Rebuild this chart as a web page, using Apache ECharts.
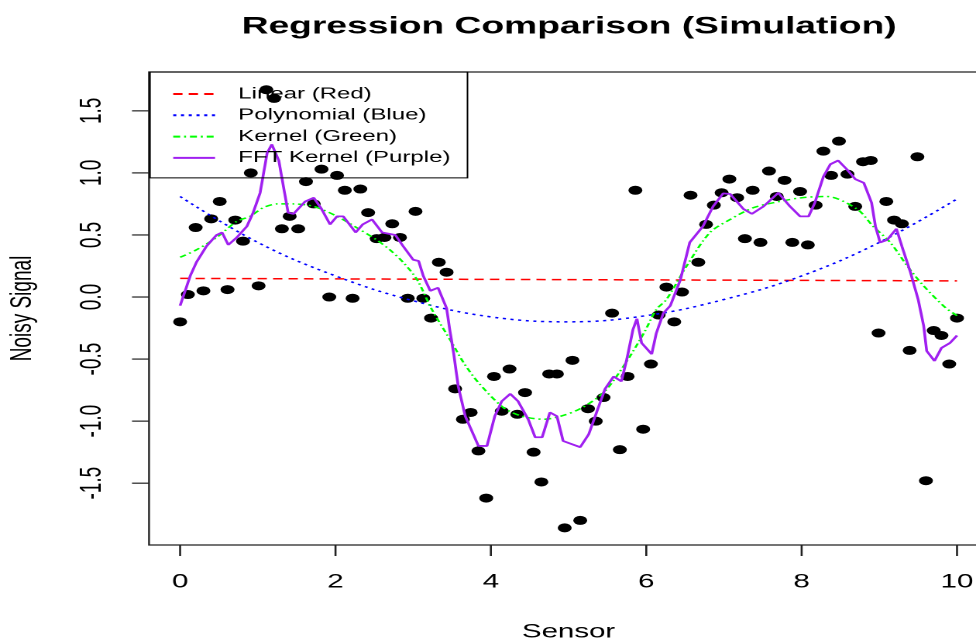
<!DOCTYPE html>
<html>
<head>
<meta charset="utf-8">
<title>Regression Comparison (Simulation)</title>
<script src="https://cdn.jsdelivr.net/npm/echarts@6/dist/echarts.min.js"></script>
<style>
  html, body { margin: 0; padding: 0; background: #fff; overflow: hidden; width: 976px; height: 642px; }
  /* the reference is stretched sideways, so draw it narrow and widen it */
  #chart { width: 645px; height: 642px; transform: scaleX(1.5492); transform-origin: 0 0; }
</style>
</head>
<body>
<div id="chart"></div>
<script>
// noisy sensor readings
var sensorX = [
    0, 0.10, 0.20, 0.30, 0.40, 0.51, 0.61, 0.71, 0.81, 0.91,
    1.01, 1.11, 1.21, 1.31, 1.41, 1.52, 1.62, 1.72, 1.82, 1.92,
    2.02, 2.12, 2.22, 2.32, 2.42, 2.53, 2.63, 2.73, 2.83, 2.93,
    3.03, 3.13, 3.23, 3.33, 3.43, 3.54, 3.64, 3.74, 3.84, 3.94,
    4.04, 4.14, 4.24, 4.34, 4.44, 4.55, 4.65, 4.75, 4.85, 4.95,
    5.05, 5.15, 5.25, 5.35, 5.45, 5.56, 5.66, 5.76, 5.86, 5.96,
    6.06, 6.16, 6.26, 6.36, 6.46, 6.57, 6.67, 6.77, 6.87, 6.97,
    7.07, 7.17, 7.27, 7.37, 7.47, 7.58, 7.68, 7.78, 7.88, 7.98,
    8.08, 8.18, 8.28, 8.38, 8.48, 8.59, 8.69, 8.79, 8.89, 8.99,
    9.09, 9.19, 9.29, 9.39, 9.49, 9.60, 9.70, 9.80, 9.90, 10.00
];
var signalY = [
    -0.20, 0.02, 0.56, 0.05, 0.63, 0.77, 0.06, 0.62, 0.45, 1.00,
    0.09, 1.67, 1.60, 0.55, 0.65, 0.55, 0.93, 0.75, 1.03, 0.00,
    0.98, 0.86, -0.01, 0.87, 0.68, 0.47, 0.48, 0.59, 0.48, -0.01,
    0.69, -0.01, -0.17, 0.28, 0.20, -0.74, -0.985, -0.93, -1.24, -1.62,
    -0.64, -0.92, -0.58, -0.945, -0.77, -1.25, -1.49, -0.62, -0.62, -1.86,
    -0.51, -1.80, -0.90, -1.00, -0.81, -0.13, -1.23, -0.64, 0.86, -1.065,
    -0.54, -0.145, 0.08, -0.20, 0.04, 0.82, 0.28, 0.585, 0.74, 0.84,
    0.95, 0.80, 0.47, 0.86, 0.44, 1.015, 0.81, 0.94, 0.44, 0.85,
    0.42, 0.74, 1.175, 0.98, 1.256, 0.99, 0.73, 1.09, 1.10, -0.29,
    0.77, 0.62, 0.59, -0.43, 1.13, -1.48, -0.27, -0.31, -0.54, -0.17
];

// fitted curves
var linearX = [0, 10];
var linearY = [0.15, 0.13];

var polyX = [0, 1, 2, 3, 4, 5, 6, 7, 8, 9, 10];
var polyY = [0.81, 0.44, 0.17, -0.03, -0.16, -0.20, -0.15, -0.02, 0.17, 0.44, 0.79];

var kernelX = [0, 0.21, 0.47, 0.73, 0.9, 1.07, 1.25, 1.46, 1.72, 2.02,
    2.27, 2.53, 2.7, 2.87, 3.05, 3.24, 3.5, 3.65, 3.84, 4.16,
    4.4, 4.68, 4.9, 5.15, 5.45, 5.71, 5.97, 6.13, 6.26, 6.52,
    6.82, 7.08, 7.38, 7.72, 8.0, 8.32, 8.71, 8.92, 9.14, 9.36,
    9.57, 9.85, 10];
var kernelY = [0.32, 0.38, 0.48, 0.61, 0.65, 0.72, 0.75, 0.75, 0.73, 0.65,
    0.56, 0.46, 0.38, 0.28, 0.14, -0.10, -0.37, -0.53, -0.69, -0.89,
    -0.96, -0.985, -0.96, -0.90, -0.77, -0.555, -0.29, -0.10, -0.02, 0.25,
    0.52, 0.625, 0.72, 0.77, 0.80, 0.81, 0.71, 0.57, 0.44, 0.25,
    0.09, -0.085, -0.15];

var fftX = [0, 0.13, 0.21, 0.34, 0.47, 0.54, 0.62, 0.73, 0.86, 0.94,
    1.03, 1.12, 1.18, 1.27, 1.33, 1.39, 1.46, 1.52, 1.61, 1.72,
    1.82, 1.93, 2.02, 2.10, 2.26, 2.35, 2.47, 2.60, 2.77, 2.87,
    3.00, 3.07, 3.13, 3.22, 3.32, 3.43, 3.47, 3.52, 3.58, 3.67,
    3.84, 3.95, 4.05, 4.14, 4.25, 4.35, 4.48, 4.57, 4.66, 4.76,
    4.85, 4.93, 5.15, 5.26, 5.36, 5.47, 5.58, 5.68, 5.75, 5.83,
    5.88, 5.94, 6.07, 6.13, 6.22, 6.31, 6.44, 6.56, 6.73, 6.86,
    6.99, 7.08, 7.25, 7.36, 7.51, 7.70, 7.85, 7.98, 8.09, 8.17,
    8.28, 8.37, 8.47, 8.58, 8.69, 8.80, 8.90, 8.95, 9.01, 9.10,
    9.22, 9.29, 9.40, 9.50, 9.57, 9.61, 9.71, 9.80, 9.91, 10.0];
var fftY = [-0.07, 0.17, 0.28, 0.41, 0.50, 0.52, 0.42, 0.48, 0.57, 0.68,
    0.84, 1.16, 1.23, 1.10, 0.89, 0.68, 0.67, 0.71, 0.77, 0.80,
    0.71, 0.585, 0.65, 0.65, 0.52, 0.585, 0.625, 0.52, 0.50, 0.41,
    0.30, 0.29, 0.17, 0.05, 0.075, -0.09, -0.26, -0.45, -0.72, -0.96,
    -1.20, -1.20, -0.96, -0.84, -0.78, -0.84, -0.985, -1.13, -1.13, -0.93,
    -0.96, -1.16, -1.21, -1.105, -0.93, -0.74, -0.64, -0.68, -0.50, -0.26,
    -0.175, -0.37, -0.46, -0.29, -0.13, -0.07, 0.14, 0.44, 0.57, 0.73,
    0.835, 0.83, 0.71, 0.67, 0.73, 0.84, 0.73, 0.65, 0.65, 0.76,
    0.97, 1.07, 1.10, 1.03, 0.95, 0.92, 0.76, 0.57, 0.44, 0.46,
    0.55, 0.41, 0.20, -0.02, -0.23, -0.435, -0.515, -0.41, -0.37, -0.31];

// axis ticks
var xTicks = [0, 2, 4, 6, 8, 10];
var yTicks = [-1.5, -1, -0.5, 0, 0.5, 1, 1.5];
var yTickLabels = ['-1.5', '-1.0', '-0.5', '0.0', '0.5', '1.0', '1.5'];

var xMin = -0.4, xMax = 10.4;
var yMin = -1.998, yMax = 1.813;

function pairs(xs, ys) {
    return xs.map(function (x, i) { return [x, ys[i]]; });
}

var font = '"Liberation Sans", Arial, sans-serif';
var tickLen = 11;
var chart = echarts.init(document.getElementById('chart'), null, { devicePixelRatio: 2 });

chart.setOption({
    animation: false,
    backgroundColor: '#fff',
    title: {
        text: 'Regression Comparison (Simulation)',
        left: 156,
        top: 15,
        padding: 0,
        textStyle: { fontFamily: font, fontSize: 24, fontWeight: 'bold', color: '#000' }
    },
    legend: {
        data: ['Linear (Red)', 'Polynomial (Blue)', 'Kernel (Green)', 'FFT Kernel (Purple)'],
        orient: 'vertical',
        left: 96.8,
        top: 72,
        padding: [14, 11, 12, 14],
        itemGap: 5.3,
        itemWidth: 27,
        itemHeight: 14,
        borderColor: '#000',
        borderWidth: 1,
        borderRadius: 0,
        selectedMode: false,
        itemStyle: { opacity: 0 },
        textStyle: { fontFamily: font, fontSize: 15.5, color: '#000', padding: [0, 0, 0, 10] }
    },
    grid: {
        show: true,
        left: 96.2,
        top: 72,
        width: 541.6,
        height: 473,
        outerBoundsMode: 'none',
        containLabel: false,
        borderColor: '#222',
        borderWidth: 1.2,
        backgroundColor: 'transparent'
    },
    xAxis: {
        type: 'value',
        min: xMin,
        max: xMax,
        name: 'Sensor',
        nameLocation: 'middle',
        nameGap: 78,
        nameTextStyle: { fontFamily: font, fontSize: 19, color: '#000' },
        axisLine: { show: false, onZero: false },
        splitLine: { show: false },
        axisTick: { show: false },
        axisLabel: { customValues: xTicks, margin: 28, fontFamily: font, fontSize: 19, color: '#000' }
    },
    yAxis: {
        type: 'value',
        min: yMin,
        max: yMax,
        name: 'Noisy Signal',
        nameLocation: 'middle',
        nameRotate: 90,
        nameGap: 72,
        nameTextStyle: { fontFamily: font, fontSize: 19, color: '#000' },
        axisLine: { show: false, onZero: false },
        splitLine: { show: false },
        axisTick: { show: false },
        axisLabel: {
            customValues: yTicks,
            rotate: 90,
            margin: 27,
            fontFamily: font,
            fontSize: 19,
            color: '#000',
            formatter: function (v) { return yTickLabels[yTicks.indexOf(v)]; }
        }
    },
    series: [
        {
            name: 'Sensor data',
            type: 'scatter',
            data: pairs(sensorX, signalY),
            symbol: 'circle',
            symbolSize: 9,
            itemStyle: { color: '#000', opacity: 1 }
        },
        {
            name: 'Linear (Red)',
            type: 'line',
            data: pairs(linearX, linearY),
            symbol: 'none',
            itemStyle: { color: '#ff0000' },
            lineStyle: { color: '#ff0000', width: 1.5, type: [6, 4] }
        },
        {
            name: 'Polynomial (Blue)',
            type: 'line',
            data: pairs(polyX, polyY),
            symbol: 'none',
            smooth: 0.4,
            itemStyle: { color: '#0000ff' },
            lineStyle: { color: '#0000ff', width: 1.5, type: [2, 3] }
        },
        {
            name: 'Kernel (Green)',
            type: 'line',
            data: pairs(kernelX, kernelY),
            symbol: 'none',
            smooth: 0.3,
            itemStyle: { color: '#00ff00' },
            lineStyle: { color: '#00ff00', width: 1.5, type: [4.5, 2.5, 1.3, 2.5] }
        },
        {
            name: 'FFT Kernel (Purple)',
            type: 'line',
            data: pairs(fftX, fftY),
            symbol: 'none',
            itemStyle: { color: '#a020f0' },
            lineStyle: { color: '#a020f0', width: 1.8 }
        }
    ]
});

// R style outward tick marks, placed with the chart's own axis scales
var tickMarks = [];
xTicks.forEach(function (v) {
    var p = chart.convertToPixel({ gridIndex: 0 }, [v, yMin]);
    tickMarks.push({
        type: 'line', z: 100,
        shape: { x1: p[0], y1: p[1], x2: p[0], y2: p[1] + tickLen },
        style: { stroke: '#222', lineWidth: 1.3 }
    });
});
yTicks.forEach(function (v) {
    var p = chart.convertToPixel({ gridIndex: 0 }, [xMin, v]);
    tickMarks.push({
        type: 'line', z: 100,
        shape: { x1: p[0], y1: p[1], x2: p[0] - tickLen, y2: p[1] },
        style: { stroke: '#222', lineWidth: 1.2 }
    });
});
chart.setOption({ graphic: tickMarks });
</script>
</body>
</html>
